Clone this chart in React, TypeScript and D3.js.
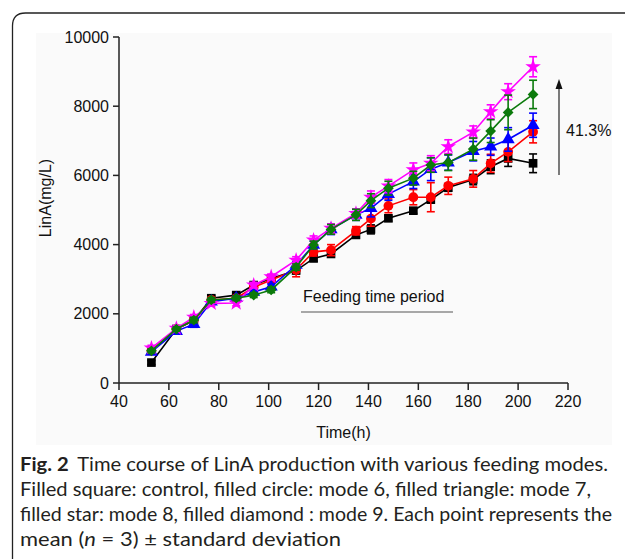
import * as d3 from "d3";

// sampling times (h)
const times = [53, 63, 70, 77, 87, 94, 101, 111, 118, 125, 135, 141, 148, 158, 165, 172, 182, 189, 196, 206];

// LinA (mg/L), mean values
const control = [590, 1560, 1800, 2450, 2540, 2830, 3020, 3250, 3600, 3730, 4280, 4440, 4760, 4980, 5300, 5650, 5880, 6250, 6490, 6350];
const mode6 = [930, 1560, 1820, 2400, 2450, 2770, 2980, 3270, 3790, 3840, 4400, 4750, 5120, 5370, 5370, 5700, 5900, 6350, 6680, 7260];
const mode7 = [900, 1500, 1700, 2350, 2450, 2630, 2780, 3410, 3990, 4440, 4860, 5050, 5460, 5820, 6180, 6370, 6700, 6830, 7040, 7450];
const mode8 = [1010, 1580, 1900, 2300, 2310, 2830, 3070, 3550, 4130, 4470, 4900, 5370, 5690, 6160, 6350, 6830, 7250, 7840, 8420, 9140];
const mode9 = [930, 1560, 1820, 2400, 2450, 2540, 2690, 3350, 3990, 4440, 4860, 5270, 5630, 5920, 6300, 6370, 6760, 7280, 7820, 8340];

// standard deviations
const controlSd = [60, 60, 60, 70, 60, 60, 70, 80, 80, 60, 80, 130, 80, 80, 100, 110, 150, 200, 230, 270];
const mode6Sd = [70, 60, 70, 80, 80, 80, 80, 200, 120, 160, 120, 220, 200, 220, 420, 250, 240, 260, 280, 320];
const mode7Sd = [60, 60, 90, 80, 70, 70, 80, 100, 110, 150, 160, 250, 180, 200, 330, 220, 280, 250, 340, 350];
const mode8Sd = [80, 80, 80, 80, 80, 80, 80, 100, 120, 130, 130, 180, 190, 200, 220, 200, 180, 200, 230, 290];
const mode9Sd = [60, 60, 80, 70, 70, 70, 80, 90, 110, 140, 160, 200, 200, 200, 210, 230, 320, 330, 500, 410];

const xTicks = [40, 60, 80, 100, 120, 140, 160, 180, 200, 220];
const yTicks = [0, 2000, 4000, 6000, 8000, 10000];

const captionLines = [
  "Time course of LinA production with various feeding modes.",
  "Filled square: control, filled circle: mode 6, filled triangle: mode 7,",
  "filled star: mode 8, filled diamond : mode 9. Each point represents the",
];

const series = [
  { name: "control", values: control, sd: controlSd, color: "#000000", symbol: d3.symbolSquare, size: 75, rotate: 0 },
  { name: "mode 6", values: mode6, sd: mode6Sd, color: "#ff0000", symbol: d3.symbolCircle, size: 75, rotate: 0 },
  { name: "mode 7", values: mode7, sd: mode7Sd, color: "#0000ff", symbol: d3.symbolTriangle, size: 75, rotate: 0 },
  { name: "mode 8", values: mode8, sd: mode8Sd, color: "#ff00ff", symbol: d3.symbolStar, size: 75, rotate: 0 },
  { name: "mode 9", values: mode9, sd: mode9Sd, color: "#0b7a0b", symbol: d3.symbolSquare, size: 58, rotate: 45 },
];

const width = 625;
const height = 559;
const axisFont = "'Liberation Sans', Arial, sans-serif";
const captionFont = "Lato, 'Noto Sans', sans-serif";

const App = () => {
  const x = d3.scaleLinear().domain([40, 220]).range([119, 568]);
  const y = d3.scaleLinear().domain([0, 10000]).range([383, 37]);

  const line = d3
    .line<number>()
    .x((_, i) => x(times[i]))
    .y((d) => y(d));

  return (
    <svg
      width={width}
      height={height}
      style={{ position: "absolute", left: 0, top: 0, background: "#fff" }}
    >
      {/* frame */}
      <path d="M12.5,559 V26 Q12.5,13 25.5,13 H625" fill="none" stroke="#222" strokeWidth={1.3} />
      <rect x={36} y={33} width={576} height={412} fill="#fafafa" />

      {/* y axis */}
      <line x1={x(40)} x2={x(40)} y1={y(10000)} y2={y(0)} stroke="#222" strokeWidth={1.5} />
      {yTicks.map((t) => (
        <g key={"y" + t}>
          <line x1={x(40) - 6} x2={x(40)} y1={y(t)} y2={y(t)} stroke="#222" strokeWidth={1.5} />
          <text x={x(40) - 10} y={y(t)} dy="0.35em" textAnchor="end" fontFamily={axisFont} fontSize={16} fill="#111">
            {t}
          </text>
        </g>
      ))}

      {/* x axis */}
      <line x1={x(40)} x2={x(220)} y1={y(0)} y2={y(0)} stroke="#222" strokeWidth={1.5} />
      {xTicks.map((t) => (
        <g key={"x" + t}>
          <line x1={x(t)} x2={x(t)} y1={y(0)} y2={y(0) + 7} stroke="#222" strokeWidth={1.5} />
          <text x={x(t)} y={407} textAnchor="middle" fontFamily={axisFont} fontSize={16} fill="#111">
            {t}
          </text>
        </g>
      ))}

      <text x={x(130)} y={438} textAnchor="middle" fontFamily={axisFont} fontSize={16} fill="#111">
        Time(h)
      </text>
      <text
        transform="translate(51,198) rotate(-90)"
        textAnchor="middle"
        fontFamily={axisFont}
        fontSize={16}
        fill="#111"
      >
        LinA(mg/L)
      </text>

      {/* series */}
      {series.map((s) => (
        <g key={s.name}>
          <path d={line(s.values) || ""} fill="none" stroke={s.color} strokeWidth={1.6} />
          {s.values.map((v, i) => {
            const cx = x(times[i]);
            const top = y(v + s.sd[i]);
            const bot = y(v - s.sd[i]);
            return (
              <g key={i} stroke={s.color} strokeWidth={1.6}>
                <line x1={cx} x2={cx} y1={top} y2={bot} />
                <line x1={cx - 4} x2={cx + 4} y1={top} y2={top} />
                <line x1={cx - 4} x2={cx + 4} y1={bot} y2={bot} />
              </g>
            );
          })}
          {s.values.map((v, i) => (
            <path
              key={"m" + i}
              d={d3.symbol(s.symbol, s.size)() || ""}
              transform={`translate(${x(times[i])},${y(v)}) rotate(${s.rotate})`}
              fill={s.color}
            />
          ))}
        </g>
      ))}

      {/* annotations */}
      <text x={303} y={302} fontFamily={axisFont} fontSize={16} fill="#111">
        Feeding time period
      </text>
      <line x1={301} x2={453} y1={312} y2={312} stroke="#555" strokeWidth={1.2} />

      <line x1={559} x2={559} y1={175} y2={86} stroke="#111" strokeWidth={1.1} />
      <path d="M559,79 L555.5,89 L562.5,89 Z" fill="#111" />
      <text x={566} y={136} fontFamily={axisFont} fontSize={16} fill="#111">
        41.3%
      </text>

      {/* caption */}
      <text x={20} y={471} fontFamily={captionFont} fontSize={19} fill="#231f20" textLength={588} lengthAdjust="spacingAndGlyphs">
        <tspan fontWeight="bold">Fig. 2</tspan>
        <tspan dx={8}>{captionLines[0]}</tspan>
      </text>
      <text x={20} y={496} fontFamily={captionFont} fontSize={19} fill="#231f20" textLength={571} lengthAdjust="spacingAndGlyphs">
        {captionLines[1]}
      </text>
      <text x={20} y={521} fontFamily={captionFont} fontSize={19} fill="#231f20" textLength={592} lengthAdjust="spacingAndGlyphs">
        {captionLines[2]}
      </text>
      <text x={20} y={546} fontFamily={captionFont} fontSize={19} fill="#231f20" textLength={321} lengthAdjust="spacingAndGlyphs">
        mean (<tspan fontStyle="italic">n</tspan> = 3) ± standard deviation
      </text>
    </svg>
  );
};

export default App;
